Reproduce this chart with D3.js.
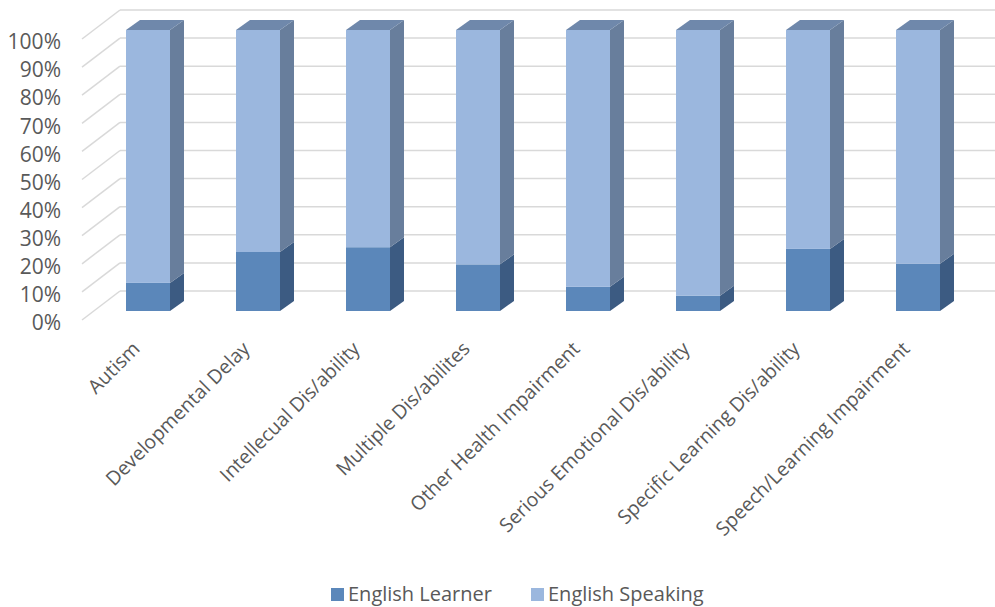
<!DOCTYPE html>
<html>
<head>
<meta charset="utf-8">
<script src="https://cdn.jsdelivr.net/npm/d3@7"></script>
<style>
  html, body { margin: 0; padding: 0; background: #ffffff; }
  svg { display: block; }
  text { font-family: "Open Sans", "Noto Sans", sans-serif; fill: #595959; }
</style>
</head>
<body>
<svg id="chart" width="995" height="607"></svg>
<script>
// Share of students in each disability category, by language status
const categories = [
  "Autism",
  "Developmental Delay",
  "Intellecual Dis/ability",
  "Multiple Dis/abilites",
  "Other Health Impairment",
  "Serious Emotional Dis/ability",
  "Specific Learning Dis/ability",
  "Speech/Learning Impairment"
];
const englishLearner = [0.10, 0.21, 0.227, 0.166, 0.086, 0.054, 0.221, 0.168];
const englishSpeaking = englishLearner.map(v => 1 - v);
const seriesNames = ["English Learner", "English Speaking"];
const yTicks = [0, 0.1, 0.2, 0.3, 0.4, 0.5, 0.6, 0.7, 0.8, 0.9, 1.0];

const svg = d3.select("#chart");

// bar front plane
const x = d3.scaleBand().domain(categories).range([93, 973]).paddingInner(0.6).paddingOuter(0.3);
const y = d3.scaleLinear().domain([0, 1]).range([311, 30]);

// depth offsets for the 3-D look
const bar = { dx: 14, dy: -10 };        // bar thickness
const wall = { dx: 28, dy: -20 };       // back wall relative to bar front
const floorFront = { dx: -38, dy: 29 }; // front edge of side wall relative to back wall
const wallLeft = 120, wallRight = 995;

// gridlines: back wall + side wall diagonals
const grid = svg.append("g");
yTicks.forEach(t => {
  const yb = y(t) + wall.dy;
  grid.append("line")
    .attr("x1", wallLeft).attr("x2", wallRight)
    .attr("y1", yb).attr("y2", yb)
    .attr("stroke", "#d9d9d9").attr("stroke-width", 1.5);
  grid.append("line")
    .attr("x1", wallLeft + floorFront.dx).attr("y1", yb + floorFront.dy)
    .attr("x2", wallLeft).attr("y2", yb)
    .attr("stroke", "#d9d9d9").attr("stroke-width", 1.5);
});

// y axis labels
const yAxisScale = y.copy().range([y(0) + wall.dy + floorFront.dy + 3, y(1) + wall.dy + floorFront.dy + 3]);
const yAxis = svg.append("g")
  .attr("transform", "translate(61,0)")
  .call(d3.axisLeft(yAxisScale).tickValues(yTicks).tickFormat(d3.format(".0%")).tickSize(0).tickPadding(0));
yAxis.select(".domain").remove();
yAxis.selectAll("text").style("font-family", "\"Open Sans\", sans-serif").style("font-size", "21px").attr("fill", "#595959");

// stacked series
const rows = categories.map((c, i) => ({ cat: c, el: englishLearner[i], es: englishSpeaking[i] }));
const stack = d3.stack().keys(["el", "es"]);
const stacked = stack(rows);

const colors = {
  el: { front: "#5b87ba", side: "#3c5b82" },
  es: { front: "#9bb7de", side: "#687e9c" }
};
const topColor = "#6f88ab";

const bars = svg.append("g");
stacked.forEach(series => {
  const c = colors[series.key];
  series.forEach((d, i) => {
    const x0 = x(categories[i]);
    const w = x.bandwidth();
    const yTop = y(d[1]), yBot = y(d[0]);
    const g = bars.append("g");
    g.append("rect")
      .attr("x", x0).attr("y", yTop)
      .attr("width", w).attr("height", yBot - yTop)
      .attr("fill", c.front);
    g.append("path")
      .attr("d", d3.line()([
        [x0 + w, yTop], [x0 + w + bar.dx, yTop + bar.dy],
        [x0 + w + bar.dx, yBot + bar.dy], [x0 + w, yBot]
      ]) + "Z")
      .attr("fill", c.side);
    if (series.key === "es") {
      g.append("path")
        .attr("d", d3.line()([
          [x0, yTop], [x0 + bar.dx, yTop + bar.dy],
          [x0 + w + bar.dx, yTop + bar.dy], [x0 + w, yTop]
        ]) + "Z")
        .attr("fill", topColor);
    }
  });
});

// category labels, rotated
const xl = svg.append("g");
categories.forEach(cat => {
  const cx = x(cat) + x.bandwidth() / 2 - 7;
  const cy = 350;
  xl.append("text")
    .attr("transform", `translate(${cx},${cy}) rotate(-45)`)
    .attr("text-anchor", "end")
    .style("font-size", "19.5px")
    .text(cat);
});

// legend
const legend = svg.append("g");
const legendItems = [
  { name: seriesNames[0], color: colors.el.front, x: 331 },
  { name: seriesNames[1], color: colors.es.front, x: 531 }
];
legendItems.forEach(it => {
  legend.append("rect").attr("x", it.x).attr("y", 588).attr("width", 13).attr("height", 13).attr("fill", it.color);
  legend.append("text").attr("x", it.x + 17).attr("y", 601).style("font-size", "20px").text(it.name);
});
</script>
</body>
</html>
